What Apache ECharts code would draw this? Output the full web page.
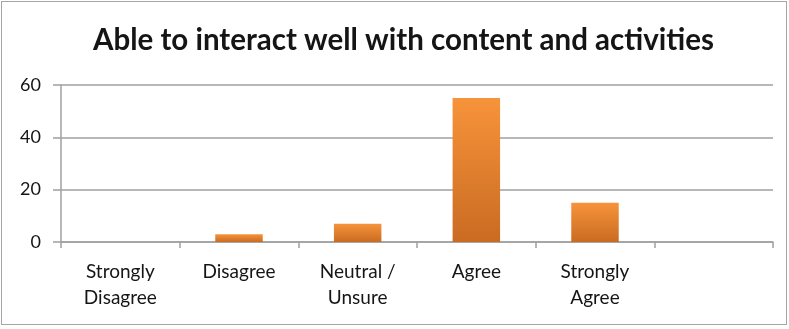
<!DOCTYPE html>
<html>
<head>
<meta charset="utf-8">
<script src="https://cdn.jsdelivr.net/npm/echarts@6/dist/echarts.min.js"></script>
<style>
  html, body { margin: 0; padding: 0; background: #fff; }
  #frame { position: absolute; left: 1px; top: 1px; width: 786px; height: 324px; border: 1.5px solid #a6a6a6; box-sizing: border-box; }
  #chart { position: absolute; left: 0; top: 0; width: 789px; height: 329px; }
</style>
</head>
<body>
<div id="frame"></div>
<div id="chart"></div>
<script>
// Survey responses
const categories = ['Strongly\nDisagree', 'Disagree', 'Neutral /\nUnsure', 'Agree', 'Strongly\nAgree', ''];
const responses = [0, 3, 7, 55, 15, null];
const yTicks = { min: 0, max: 60, interval: 20 };
const titleText = 'Able to interact well with content and activities';

const chart = echarts.init(document.getElementById('chart'), null, { renderer: 'canvas' });
const FONT = 'Lato';

chart.setOption({
  animation: false,
  title: {
    text: titleText,
    left: 88,
    top: 20,
    textStyle: { fontFamily: FONT, fontWeight: 'bold', fontSize: 29.5, color: '#151515' }
  },
  grid: { left: 61, right: 16, top: 85, bottom: 87, containLabel: false },
  xAxis: {
    type: 'category',
    data: categories,
    boundaryGap: true,
    axisLine: { show: true, lineStyle: { color: '#a0a0a0', width: 1.5 } },
    axisTick: { show: true, length: 6, interval: 0, lineStyle: { color: '#a0a0a0', width: 1.5 } },
    axisLabel: {
      interval: 0,
      margin: 17,
      fontFamily: FONT,
      fontSize: 19,
      lineHeight: 26,
      color: '#151515'
    },
    splitLine: { show: false }
  },
  yAxis: {
    type: 'value',
    min: yTicks.min,
    max: yTicks.max,
    interval: yTicks.interval,
    axisLine: { show: true, lineStyle: { color: '#a0a0a0', width: 1.5 } },
    axisTick: { show: true, length: 8, lineStyle: { color: '#a0a0a0', width: 1.5 } },
    axisLabel: { margin: 20, fontFamily: FONT, fontSize: 18, color: '#151515' },
    splitLine: { show: true, lineStyle: { color: '#a0a0a0', width: 1.5 } }
  },
  series: [{
    type: 'bar',
    data: responses,
    barWidth: '40%',
    itemStyle: {
      color: new echarts.graphic.LinearGradient(0, 0, 0, 1, [
        { offset: 0, color: '#f7933a' },
        { offset: 1, color: '#c96b22' }
      ])
    }
  }]
});
</script>
</body>
</html>
